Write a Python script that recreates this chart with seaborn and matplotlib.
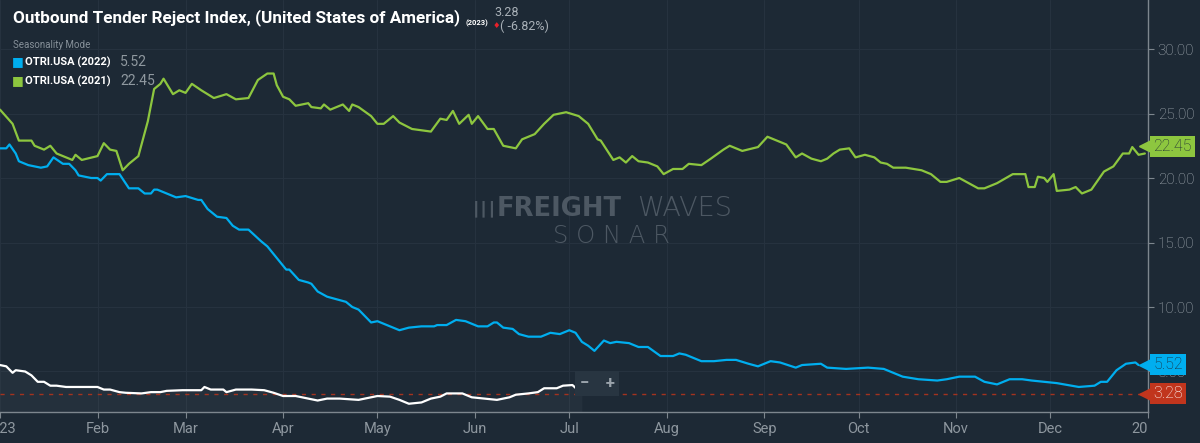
import numpy as np
import pandas as pd
import matplotlib
matplotlib.use("Agg")
import matplotlib.pyplot as plt
from matplotlib.transforms import Bbox, TransformedBbox
import seaborn as sns

# seasonality mode: every year mapped onto the 2023 calendar (day offset from Jan 1)
days_2021 = [0, 4, 6, 10, 11, 14, 16, 18, 21, 23, 24, 26, 31, 33, 35, 37, 39, 41, 44, 47,
             49, 51, 52, 55, 57, 59, 61, 64, 66, 68, 72, 75, 79, 82, 85, 87, 88, 90, 92, 94,
             98, 99, 102, 103, 105, 109, 111, 112, 114, 118, 120, 122, 125, 127, 131, 137,
             140, 142, 144, 146, 149, 150, 152, 155, 157, 160, 164, 166, 170, 173, 176, 180,
             184, 187, 190, 191, 195, 197, 199, 201, 203, 206, 209, 211, 214, 217, 219, 223,
             226, 230, 232, 236, 241, 244, 248, 250, 253, 255, 258, 261, 263, 265, 267, 270,
             272, 275, 278, 280, 282, 284, 288, 293, 296, 299, 301, 305, 311, 313, 317, 322,
             326, 327, 329, 330, 332, 333, 335, 336, 340, 342, 344, 347, 351, 354, 357, 359,
             360, 362, 364]
otri_2021 = [25.3, 24.2, 22.9, 22.9, 22.5, 22.2, 22.5, 21.9, 21.6, 21.4, 21.8, 21.4, 21.7, 22.7,
             22.2, 22.1, 20.6, 21.1, 21.7, 24.4, 26.9, 27.3, 27.7, 26.5, 26.8, 26.6, 27.3, 26.8,
             26.5, 26.2, 26.5, 26.1, 26.2, 27.6, 28.1, 28.1, 27.2, 26.3, 26.1, 25.6, 25.8, 25.5,
             25.4, 25.7, 25.3, 25.7, 25.2, 25.7, 25.5, 24.8, 24.2, 24.2, 24.8, 24.3, 23.8, 23.6,
             24.6, 24.5, 25.2, 24.2, 24.9, 24.2, 24.8, 23.8, 23.8, 22.5, 22.3, 23.0, 23.4, 24.2,
             24.9, 25.1, 24.8, 24.2, 23.0, 22.9, 21.4, 21.6, 21.2, 21.7, 21.3, 21.2, 20.9, 20.3,
             20.7, 20.7, 21.1, 21.0, 21.5, 22.2, 22.5, 22.1, 22.4, 23.2, 22.8, 22.6, 21.6, 21.9,
             21.5, 21.3, 21.5, 21.9, 22.2, 22.3, 21.6, 21.8, 21.6, 21.2, 21.1, 20.8, 20.8, 20.6,
             20.3, 19.7, 19.7, 20.0, 19.2, 19.2, 19.6, 20.3, 20.3, 19.3, 19.3, 20.1, 20.0, 19.7,
             20.3, 19.0, 19.1, 19.3, 18.8, 19.1, 20.5, 20.9, 21.9, 21.9, 22.4, 21.8, 21.9]

days_2022 = [0, 2, 3, 5, 6, 9, 13, 15, 17, 20, 22, 24, 25, 29, 31, 32, 34, 38, 41, 44, 46, 48,
             49, 50, 53, 56, 59, 63, 64, 66, 69, 72, 74, 76, 79, 83, 85, 88, 91, 92, 95, 98, 99,
             101, 104, 107, 110, 112, 114, 118, 120, 124, 127, 130, 134, 138, 139, 142, 145,
             148, 152, 155, 157, 158, 160, 163, 165, 168, 171, 172, 175, 178, 181, 183, 185,
             187, 189, 192, 194, 196, 200, 203, 206, 210, 214, 216, 218, 223, 227, 231, 234,
             238, 241, 245, 248, 253, 255, 261, 263, 269, 276, 281, 287, 292, 298, 301, 305,
             310, 313, 317, 321, 325, 328, 336, 343, 348, 350, 352, 355, 358, 361, 362]
otri_2022 = [22.3, 22.3, 22.6, 21.9, 21.3, 21.0, 20.8, 20.9, 21.6, 21.1, 21.1, 20.6, 20.2, 20.0,
             20.0, 19.8, 20.3, 20.3, 19.2, 19.2, 18.8, 18.8, 19.1, 19.1, 18.8, 18.5, 18.6, 18.3,
             18.3, 17.6, 17.0, 16.9, 16.3, 16.0, 16.0, 15.1, 14.7, 13.8, 12.9, 12.9, 12.1, 11.9,
             11.8, 11.2, 10.8, 10.6, 10.4, 10.0, 9.8, 8.8, 8.9, 8.5, 8.2, 8.4, 8.5, 8.5, 8.6,
             8.6, 9.0, 8.9, 8.5, 8.5, 8.8, 8.8, 8.4, 8.3, 7.9, 7.7, 7.7, 7.7, 8.0, 7.9, 8.2, 8.0,
             7.3, 7.0, 6.6, 7.4, 7.2, 7.3, 7.2, 6.9, 6.9, 6.2, 6.2, 6.4, 6.3, 5.8, 5.8, 5.9, 5.9,
             5.6, 5.4, 5.8, 5.7, 5.3, 5.5, 5.6, 5.3, 5.2, 5.3, 5.2, 4.6, 4.4, 4.3, 4.4, 4.6, 4.6,
             4.2, 4.0, 4.4, 4.4, 4.3, 4.1, 3.8, 3.9, 4.2, 4.2, 5.1, 5.6, 5.7, 5.5]

days_2023 = [0, 2, 4, 5, 8, 10, 12, 14, 16, 18, 21, 25, 31, 33, 35, 38, 40, 45, 48, 51, 53, 58,
             64, 65, 67, 71, 72, 75, 77, 80, 84, 87, 90, 94, 96, 101, 104, 108, 114, 118, 120,
             124, 127, 130, 134, 137, 140, 142, 147, 150, 154, 158, 162, 164, 168, 171, 173,
             177, 179, 182, 185]
otri_2023 = [5.5, 5.4, 4.9, 5.1, 5.0, 4.7, 4.2, 4.2, 3.9, 3.9, 3.8, 3.8, 3.8, 3.6, 3.6, 3.4,
             3.35, 3.3, 3.4, 3.4, 3.5, 3.55, 3.55, 3.8, 3.6, 3.6, 3.4, 3.6, 3.6, 3.6, 3.55, 3.35,
             3.1, 3.1, 3.0, 2.75, 2.9, 2.9, 2.8, 3.0, 3.1, 3.05, 2.8, 2.5, 2.6, 2.9, 3.05, 3.3,
             3.3, 3.0, 2.9, 2.8, 3.0, 3.2, 3.3, 3.4, 3.7, 3.7, 3.9, 3.95, 3.28]

series_names = ["OTRI.USA (2022)", "OTRI.USA (2021)", "OTRI.USA (2023)"]
series_colors = ["#00aeef", "#8dc63f", "#ffffff"]
last_values = {"OTRI.USA (2022)": 5.52, "OTRI.USA (2021)": 22.45, "OTRI.USA (2023)": 3.28}
change_pct = -6.82
month_labels = ["2023", "Feb", "Mar", "Apr", "May", "Jun", "Jul", "Aug", "Sep", "Oct",
                "Nov", "Dec", "2024"]
y_ticks = [5, 10, 15, 20, 25, 30]

start = pd.Timestamp("2023-01-01")


def to_frame(days, values, name):
    return pd.DataFrame({"date": start + pd.to_timedelta(days, unit="D"),
                         "value": values, "series": name})


df = pd.concat([to_frame(days_2022, otri_2022, series_names[0]),
                to_frame(days_2021, otri_2021, series_names[1]),
                to_frame(days_2023, otri_2023, series_names[2])], ignore_index=True)

BG = "#1d2935"
GRID = "#26323f"
AXIS = "#7d868e"
TXT = "#a9b1b8"

sns.set_theme(style="dark", rc={"axes.facecolor": BG, "figure.facecolor": BG})
plt.rcParams["font.family"] = ["Roboto", "DejaVu Sans"]

fig = plt.figure(figsize=(12, 4.43), dpi=100)
ax = fig.add_axes([0, 31 / 443, 1148 / 1200, 412 / 443])

sns.lineplot(data=df, x="date", y="value", hue="series", hue_order=series_names,
             palette=series_colors, linewidth=1.6, legend=False, ax=ax, estimator=None,
             sort=True)

y_min, y_max = 1.86, 33.8
white = df[df.series == series_names[2]]
ax.fill_between(white.date, white.value, y_min, color="white", alpha=0.035, lw=0)

ax.set_ylim(y_min, y_max)
ax.set_xlim(start, pd.Timestamp("2024-01-01"))

# dashed line at the latest 2023 value
ax.axhline(last_values["OTRI.USA (2023)"], color="#a3331f", lw=1.0, ls=(0, (3, 4)), zorder=1)

month_ticks = pd.date_range("2023-01-01", "2024-01-01", freq="MS")
ax.set_xticks(month_ticks)
ax.set_xticklabels(month_labels)
ax.yaxis.tick_right()
ax.set_yticks(y_ticks)
ax.set_yticklabels([f"{t:.2f}" for t in y_ticks])
ax.set_xlabel("")
ax.set_ylabel("")

ax.grid(True, color=GRID, lw=0.8)
for s in ["left", "top"]:
    ax.spines[s].set_visible(False)
for s in ["right", "bottom"]:
    ax.spines[s].set_visible(True)
    ax.spines[s].set_color(AXIS)
    ax.spines[s].set_linewidth(1.0)
ax.tick_params(axis="x", colors=AXIS, labelcolor="#8e979f", labelsize=10.5, length=4,
               width=0.8, pad=3, bottom=True)
ax.tick_params(axis="y", colors=AXIS, labelcolor=TXT, labelsize=11, length=4,
               width=0.8, pad=3, right=True, left=False)
for lab in ax.get_yticklabels():
    lab.set_fontweight("light")

clip = TransformedBbox(Bbox([[0, 0], [1147 / 1200, 1]]), fig.transFigure)
for lab in ax.get_xticklabels():
    lab.set_clip_on(True)
    lab.set_clip_box(clip)

# value tags on the right axis
tag_style = [("OTRI.USA (2021)", "#8dc63f", "#1d2935"),
             ("OTRI.USA (2022)", "#00aeef", "#1d2935"),
             ("OTRI.USA (2023)", "#c1351d", "#ffffff")]
ytr = ax.get_yaxis_transform()
for name, fc, tc in tag_style:
    v = last_values[name]
    ax.plot([1.0], [v], marker="<", ms=13, color=fc, mec=fc, transform=ytr,
            clip_on=False, zorder=5)
    ax.annotate(f"{v:.2f}", xy=(1.0, v), xycoords=ytr, xytext=(4, 0),
                textcoords="offset points", ha="left", va="center", fontsize=11.5,
                color=tc, zorder=6, fontweight="light",
                bbox=dict(boxstyle="square,pad=0.2", fc=fc, ec="none"))

# title block
fig.text(13 / 1200, 1 - 18 / 443, "Outbound Tender Reject Index, (United States of America)",
         fontsize=12.3, weight="bold", color="white", va="center")
fig.text(466 / 1200, 1 - 23 / 443, "(2023)", fontsize=5.5, weight="bold", color="white",
         va="center")
fig.text(494 / 1200, 1 - 12 / 443, f"{last_values['OTRI.USA (2023)']:.2f}", fontsize=9,
         color=TXT, va="center")
fig.text(493 / 1200, 1 - 26 / 443, "\u2666", fontsize=6, color="#e8202a", va="center",
         family=["DejaVu Sans"])
fig.text(500 / 1200, 1 - 26 / 443, f"( {change_pct:.2f}%)", fontsize=9, color=TXT,
         va="center")

# legend block
fig.text(13 / 1200, 1 - 45 / 443, "Seasonality Mode", fontsize=7, color="#87919a",
         va="center")
for i, (name, col) in enumerate(zip(series_names[:2], series_colors[:2])):
    yy = 1 - (62 + 19 * i) / 443
    fig.text(12 / 1200, yy, "\u25a0", fontsize=9, color=col, va="center",
             family=["DejaVu Sans"])
    fig.text(25 / 1200, yy, name, fontsize=8, weight="bold", color="white", va="center")
    fig.text(120 / 1200, yy, f"{last_values[name]:.2f}", fontsize=10, color="#8f989f",
             va="center")

# watermark
wm = "#4d5863"
fig.text(472 / 1200, 1 - 209 / 443, "\u2503\u2503\u2503", fontsize=10, color=wm,
         va="center", family=["DejaVu Sans"])
fig.text(497 / 1200, 1 - 209 / 443, "FREIGHT", fontsize=18.5, weight="heavy", color=wm,
         va="center", family=["DejaVu Sans"])
fig.text(637 / 1200, 1 - 209 / 443, "WAVES", fontsize=19.5, weight="light", color=wm,
         va="center", family=["DejaVu Sans"])
fig.text(611 / 1200, 1 - 236 / 443, "S O N A R", fontsize=17.5, weight="light", color=wm,
         va="center", ha="center", family=["DejaVu Sans"])

# zoom control overlay
fig.text(597 / 1200, 1 - 383 / 443, "\u2212    +", fontsize=12, weight="bold",
         color="#9aa3ab", ha="center", va="center",
         bbox=dict(boxstyle="square,pad=0.3", fc="#283541", ec="none"))

fig.savefig("out.png", dpi=100, facecolor=BG)
